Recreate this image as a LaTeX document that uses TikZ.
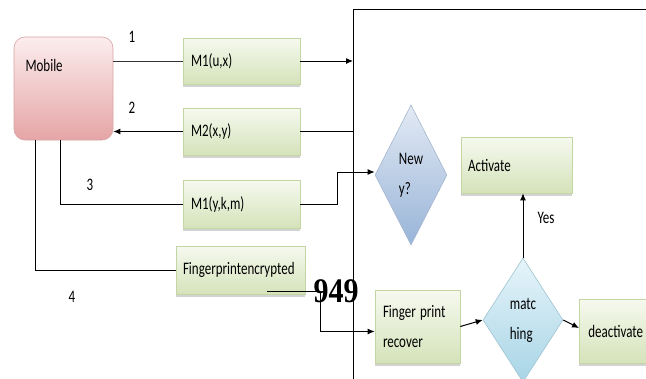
\documentclass[tikz,border=0pt]{standalone}
\usepackage{fontspec,graphicx}
\setmainfont{Carlito}
\newfontfamily\pagefont{Liberation Serif}
\usetikzlibrary{shapes.geometric,shadows,arrows.meta}

\definecolor{greentop}{HTML}{F6F9EF}
\definecolor{greenbot}{HTML}{D5E3BA}
\definecolor{greenline}{HTML}{C4D5A4}
\definecolor{pinktop}{HTML}{FCEDED}
\definecolor{pinkbot}{HTML}{E5A5A6}
\definecolor{pinkline}{HTML}{D8A3A4}
\definecolor{bluetop}{HTML}{E3EAF4}
\definecolor{bluebot}{HTML}{98B4D8}
\definecolor{blueline}{HTML}{A3B6CF}
\definecolor{cyantop}{HTML}{E6F4FA}
\definecolor{cyanbot}{HTML}{A8D5E6}
\definecolor{cyanline}{HTML}{9EC3D2}
% the scanned figure is stretched upwards
\newcommand{\tallt}[1]{\scalebox{1}[1.35]{#1}}

\begin{document}
\begin{tikzpicture}[x=1pt,y=-1pt,
  >={Latex[length=7pt,width=6pt]},
  line width=1pt,
  every node/.style={font=\fontsize{13}{30}\selectfont},
  msgbox/.style={draw=greenline,line width=0.6pt,top color=greentop,bottom color=greenbot,
    drop shadow={shadow xshift=0pt,shadow yshift=-2.5pt,opacity=0.35},
    align=left,inner xsep=8pt,inner ysep=0pt},
  mobilebox/.style={draw=pinkline,line width=0.6pt,top color=pinktop,bottom color=pinkbot,
    rounded corners=11pt,minimum width=99,minimum height=103},
  decide/.style={diamond,aspect=0.5,inner sep=2pt,line width=0.6pt,align=left},
  numlabel/.style={inner sep=0pt}]
\path[use as bounding box] (0,0) rectangle (646,378);
% server side
\coordinate (srv) at (353,9);
\draw (srv) -- ++(310,0);
\draw (srv) -- ++(0,380);
% mobile and messages
\node[mobilebox] (mobile) at (63.5,88.5) {};
\node[anchor=west,inner sep=0pt] (mobtext) at (25,65) {\tallt{Mobile}};
\node[msgbox,text width=101,minimum height=46] (m1ux) at (241.5,61) {\tallt{M1(u,x)}};
\node[msgbox,text width=101,minimum height=47] (m2xy) at (241.5,131.5) {\tallt{M2(x,y)}};
\node[msgbox,text width=101,minimum height=48] (m1ykm) at (241.5,204) {\tallt{M1(y,k,m)}};
\node[msgbox,text width=115,inner xsep=7pt,minimum height=48] (fpenc) at (240.5,270) {\tallt{Fingerprintencrypted}};
% decisions and results
\node[decide,draw=blueline,top color=bluetop,bottom color=bluebot,minimum width=72,minimum height=140] (newy) at (411,175) {\tallt{New}\\\tallt{y?}};
\node[msgbox,text width=97,inner xsep=7pt,minimum height=56] (act) at (516.5,165) {\tallt{Activate}};
\node[msgbox,text width=69,minimum height=73] (fprec) at (417.5,326.5) {\tallt{Finger print}\\\tallt{recover}};
\node[decide,draw=cyanline,top color=cyantop,bottom color=cyanbot,minimum width=80,minimum height=124] (match) at (523,320) {\tallt{matc}\\\tallt{hing}};
\node[msgbox,text width=90,inner xsep=9pt,minimum height=64,anchor=west] (deact) at (579,331) {\tallt{deactivate}};
% numbers
\node[numlabel] (n1) at (132,37) {\tallt{1}};
\node[numlabel] (n2) at (132,108) {\tallt{2}};
\node[numlabel] (n3) at (90,185) {\tallt{3}};
\node[numlabel] (n4) at (72,297) {\tallt{4}};
\node[inner sep=0pt,font=\pagefont\fontsize{30}{30}\selectfont\bfseries] (page) at (336,291) {\scalebox{1}[1.15]{949}};
\node[inner sep=0pt] (yes) at (546,218) {\tallt{Yes}};
% connectors
\draw[draw=black!80] (m1ux.west) -- (m1ux.west -| mobile.east);
\draw[->] (m1ux.east) -- (m1ux.east -| srv);
\draw (m2xy.east -| srv) -- (m2xy.east);
\draw[->] (m2xy.west) -- (m2xy.west -| mobile.east);
\draw ([xshift=-3]mobile.south) |- (m1ykm.west);
\draw[->] (m1ykm.east) -- ++(37,0) |- ([yshift=3]newy.west);
\draw ([xshift=22]mobile.south west) |- (fpenc.west);
\draw[->] ([xshift=-38,yshift=3]fpenc.south east) -- ++(53,0) |- ([yshift=-5]fprec.west);
\draw[->] (fprec.east) -- (match.west);
\draw[->] (match.north) -- (match.north |- act.south);
\draw[->] (match.east) -- ([yshift=3]deact.west);
\end{tikzpicture}
\end{document}
